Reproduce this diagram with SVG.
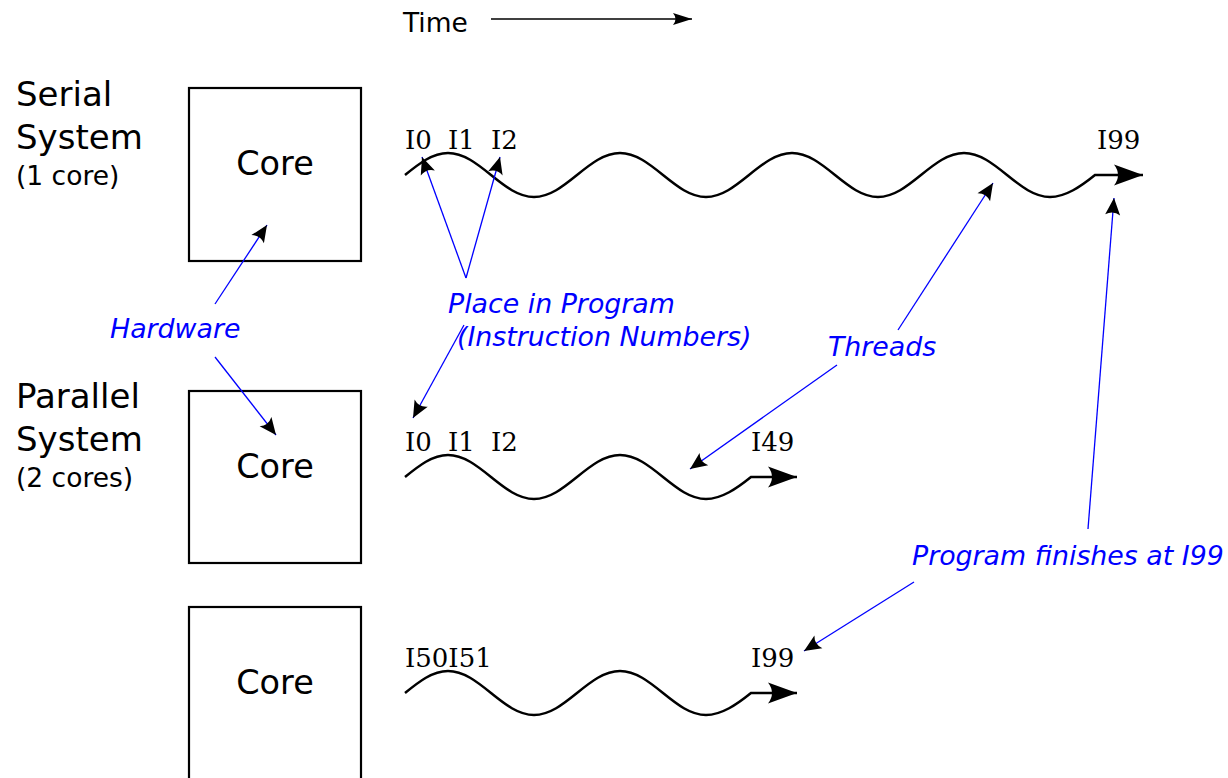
<svg xmlns="http://www.w3.org/2000/svg" width="1228" height="778" viewBox="0 0 1228 778">
<defs>
<style>
.box{fill:#fff;stroke:#000;stroke-width:2.2}
.big{font-family:"DejaVu Sans",sans-serif;font-size:34px;fill:#000}
.core{font-family:"DejaVu Sans",sans-serif;font-size:33.5px;fill:#000}
.small{font-family:"DejaVu Sans",sans-serif;font-size:26.5px;fill:#000}
.lbl{font-family:"DejaVu Serif",serif;font-size:26px;fill:#000}
.note{font-family:"DejaVu Sans",sans-serif;font-size:26.8px;font-style:italic;fill:#0000ff}
.wave{fill:none;stroke:#000;stroke-width:2.5}
.ptr{fill:none;stroke:#0000ff;stroke-width:1.3}
</style>
<marker id="big" markerUnits="userSpaceOnUse" viewBox="-30 -12 32 24" refX="0" refY="0" markerWidth="32" markerHeight="24" orient="auto" overflow="visible">
<path d="M0,0 L-29,-10.5 Q-21,0 -29,10.5 Z" fill="#000"/>
</marker>
<marker id="sm" markerUnits="userSpaceOnUse" viewBox="-18 -9 20 18" refX="0" refY="0" markerWidth="20" markerHeight="18" orient="auto" overflow="visible">
<path d="M0,0 L-17,-7.5 Q-12,0 -17,7.5 Z" fill="#000"/>
</marker>
<marker id="tm" markerUnits="userSpaceOnUse" viewBox="-20 -8 22 16" refX="0" refY="0" markerWidth="22" markerHeight="16" orient="auto" overflow="visible">
<path d="M0,0 L-19,-6 Q-14,0 -19,6 Z" fill="#000"/>
</marker>
</defs>
<rect width="1228" height="778" fill="#fff"/>

<g id="time">
<text class="small" x="403" y="32">Time</text>
<line x1="491" y1="19" x2="692" y2="19" stroke="#000" stroke-width="1.4" marker-end="url(#tm)"/>
</g>

<g id="serial-label">
<text class="big" x="16" y="106">Serial</text>
<text class="big" x="16" y="149">System</text>
<text class="small" x="16" y="185">(1 core)</text>
</g>
<g id="parallel-label">
<text class="big" x="16" y="408">Parallel</text>
<text class="big" x="16" y="451">System</text>
<text class="small" x="16" y="487">(2 cores)</text>
</g>

<g id="core1">
<rect class="box" x="189" y="88" width="172" height="173"/>
<text class="core" x="275" y="175" text-anchor="middle">Core</text>
</g>
<g id="core2">
<rect class="box" x="189" y="391" width="172" height="172"/>
<text class="core" x="275" y="478" text-anchor="middle">Core</text>
</g>
<g id="core3">
<rect class="box" x="189" y="607" width="172" height="180"/>
<text class="core" x="275" y="694" text-anchor="middle">Core</text>
</g>

<g id="thread-serial">
<path class="wave" marker-end="url(#big)" d="M405,175 C419,163.7 432.4,153 448,153 S477,163.7 491,175 S518.4,197 534,197 S563,186.3 577,175 S604.4,153 620,153 S649,163.7 663,175 S690.4,197 706,197 S735,186.3 749,175 S776.4,153 792,153 S821,163.7 835,175 S862.4,197 878,197 S907,186.3 921,175 S948.4,153 964,153 S993,163.7 1007,175 S1034.4,197 1050,197 S1081,186.3 1095,175 L1143,175"/>
<text class="lbl" x="405" y="149">I0</text>
<text class="lbl" x="448" y="149">I1</text>
<text class="lbl" x="491" y="149">I2</text>
<text class="lbl" x="1097" y="149">I99</text>
</g>

<g id="thread-par1">
<path class="wave" marker-end="url(#big)" d="M405,477 C419,465.7 432.4,455 448,455 S477,465.7 491,477 S518.4,499 534,499 S563,488.3 577,477 S604.4,455 620,455 S649,465.7 663,477 S690.4,499 706,499 S737,488.3 751,477 L797,477"/>
<text class="lbl" x="405" y="451">I0</text>
<text class="lbl" x="448" y="451">I1</text>
<text class="lbl" x="491" y="451">I2</text>
<text class="lbl" x="751" y="451">I49</text>
</g>

<g id="thread-par2">
<path class="wave" marker-end="url(#big)" d="M405,693 C419,681.7 432.4,671 448,671 S477,681.7 491,693 S518.4,715 534,715 S563,704.3 577,693 S604.4,671 620,671 S649,681.7 663,693 S690.4,715 706,715 S737,704.3 751,693 L797,693"/>
<text class="lbl" x="405" y="667">I50I51</text>
<text class="lbl" x="751" y="667">I99</text>
</g>

<g id="notes">
<text class="note" x="110" y="338">Hardware</text>
<text class="note" x="448" y="313">Place in Program</text>
<text class="note" x="457" y="346">(Instruction Numbers)</text>
<text class="note" x="828" y="356">Threads</text>
<text class="note" x="912" y="565">Program finishes at I99</text>
</g>

<g id="connectors">
<line class="ptr" x1="215" y1="304" x2="267" y2="225" marker-end="url(#sm)"/>
<line class="ptr" x1="215" y1="357" x2="276" y2="435" marker-end="url(#sm)"/>
<line class="ptr" x1="466" y1="278" x2="422" y2="157" marker-end="url(#sm)"/>
<line class="ptr" x1="466" y1="278" x2="500" y2="157" marker-end="url(#sm)"/>
<line class="ptr" x1="464" y1="325" x2="413" y2="418" marker-end="url(#sm)"/>
<line class="ptr" x1="898" y1="330" x2="993" y2="183" marker-end="url(#sm)"/>
<line class="ptr" x1="837" y1="365" x2="690" y2="469" marker-end="url(#sm)"/>
<line class="ptr" x1="1088" y1="529" x2="1114" y2="198" marker-end="url(#sm)"/>
<line class="ptr" x1="914" y1="582" x2="804" y2="651" marker-end="url(#sm)"/>
</g>
</svg>
